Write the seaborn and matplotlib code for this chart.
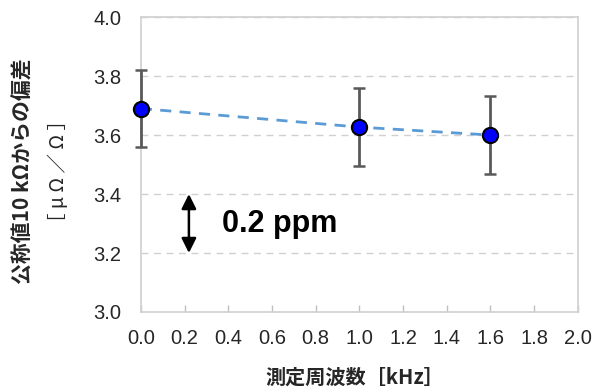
import numpy as np
import pandas as pd
import seaborn as sns
import matplotlib.pyplot as plt

# データ
freq_khz = [0.0, 1.0, 1.6]
deviation = [3.69, 3.627, 3.60]
error = [0.13, 0.133, 0.133]
x_ticks = [0.0, 0.2, 0.4, 0.6, 0.8, 1.0, 1.2, 1.4, 1.6, 1.8, 2.0]
y_ticks = [3.0, 3.2, 3.4, 3.6, 3.8, 4.0]

ylabel_1 = "公称値10 kΩからの偏差"
ylabel_2 = "［ μ Ω ／ Ω ］"
xlabel = "測定周波数［kHz］"
note = "0.2 ppm"

df = pd.DataFrame({"freq": freq_khz, "dev": deviation, "err": error})

sns.set_theme(style="white")
plt.rcParams["font.family"] = ["Liberation Sans", "Noto Sans CJK JP", "DejaVu Sans"]
cjk = ["Noto Sans CJK JP", "DejaVu Sans"]

fig = plt.figure(figsize=(6.07, 3.89), dpi=100)
ax = fig.add_axes([0.232, 0.198, 0.720, 0.758])

# グリッド
for y in y_ticks[1:]:
    ax.axhline(y, color="#d0d0d0", lw=1.0, ls=(0, (5, 4)), zorder=0)

# 近似線
sns.lineplot(data=df, x="freq", y="dev", ax=ax, color="#5b9bd5", lw=2.0,
             linestyle=(0, (4, 3)), zorder=2)

# 誤差棒
ax.errorbar(df["freq"], df["dev"], yerr=df["err"], fmt="none",
            ecolor="#595959", elinewidth=2.0, capsize=4, capthick=1.8,
            zorder=3, clip_on=False)

sns.scatterplot(data=df, x="freq", y="dev", ax=ax, color="#0000ff",
                edgecolor="black", linewidth=1.5, s=120, zorder=4, clip_on=False)

# 0.2 ppm の矢印
ax.annotate("", xy=(0.22, 3.2), xytext=(0.22, 3.4),
            arrowprops=dict(arrowstyle="<|-|>", color="black", lw=1.8,
                            mutation_scale=22, shrinkA=0, shrinkB=0))
ax.text(0.37, 3.3, note, fontsize=22, fontweight="bold", va="center",
        ha="left", color="black")

ax.set_xlim(0, 2.0)
ax.set_ylim(3.0, 4.0)
ax.set_xticks(x_ticks)
ax.set_yticks(y_ticks)
ax.set_xticklabels([f"{v:.1f}" for v in x_ticks], fontsize=14.5)
ax.set_yticklabels([f"{v:.1f}" for v in y_ticks], fontsize=14.5)
ax.tick_params(axis="x", direction="in", length=5, color="#bfbfbf", width=1,
               pad=12, bottom=True)
ax.tick_params(axis="y", length=0, pad=14)
ax.set_xlabel("")
ax.set_ylabel("")

for s in ax.spines.values():
    s.set_color("#d0d0d0")
    s.set_linewidth(1.2)

fig.text(0.585, 0.03, xlabel, ha="center", va="center", fontsize=14.5,
         fontweight="bold", family=cjk)
fig.text(0.038, 0.56, ylabel_1, ha="center", va="center", rotation=90,
         fontsize=15, fontweight="bold", family=cjk)
fig.text(0.097, 0.56, ylabel_2, ha="center", va="center", rotation=90,
         fontsize=14, family=cjk)

fig.savefig("out.png", dpi=100)
